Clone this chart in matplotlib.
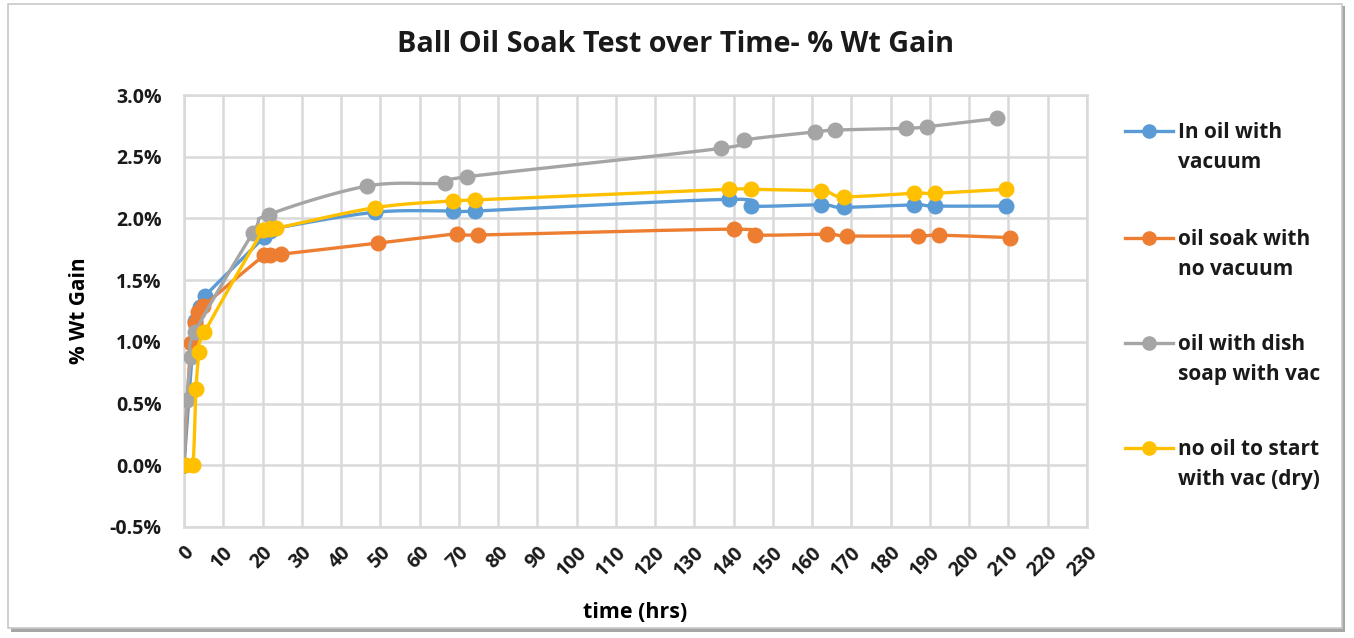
import numpy as np
import matplotlib
matplotlib.use("Agg")
import matplotlib.pyplot as plt
from matplotlib.lines import Line2D
from matplotlib.patches import Rectangle
from matplotlib.ticker import FuncFormatter, MultipleLocator

plt.rcParams["font.family"] = ["Open Sans", "DejaVu Sans"]
plt.rcParams["font.weight"] = "bold"

TITLE = "Ball Oil Soak Test over Time- % Wt Gain"

# time (hrs) and % weight gain for each soak condition
vac_hrs = [0, 2.8, 4.0, 5.3, 20.5, 22.0, 23.3, 48.6, 68.4, 74.2, 138.8, 144.3, 162.3, 168.0, 186.0, 191.3, 209.3]
vac_gain = [0.0, 1.17, 1.28, 1.37, 1.85, 1.90, 1.92, 2.05, 2.06, 2.06, 2.155, 2.10, 2.11, 2.09, 2.11, 2.10, 2.10]

novac_hrs = [0, 1.7, 2.8, 3.6, 4.9, 20.4, 21.9, 24.7, 49.4, 69.6, 75.0, 140.0, 145.5, 163.7, 168.9, 187.0, 192.4, 210.3]
novac_gain = [0.0, 0.99, 1.15, 1.24, 1.29, 1.70, 1.70, 1.71, 1.80, 1.875, 1.866, 1.913, 1.866, 1.872, 1.858, 1.858, 1.864, 1.845]

soap_hrs = [0, 0.7, 1.8, 2.8, 17.6, 21.6, 46.7, 66.4, 72.2, 136.8, 142.6, 160.6, 165.9, 183.9, 189.2, 207.2]
soap_gain = [0.0, 0.53, 0.88, 1.08, 1.885, 2.03, 2.263, 2.285, 2.338, 2.568, 2.635, 2.70, 2.716, 2.73, 2.743, 2.81]

dry_hrs = [0, 2.2, 3.05, 3.9, 5.2, 20.2, 21.9, 23.4, 48.6, 68.4, 74.2, 138.9, 144.3, 162.3, 168.0, 186.0, 191.3, 209.3]
dry_gain = [0.0, 0.0, 0.62, 0.92, 1.076, 1.907, 1.913, 1.92, 2.087, 2.142, 2.15, 2.236, 2.236, 2.222, 2.176, 2.204, 2.204, 2.236]

labels = ["In oil with\nvacuum", "oil soak with\nno vacuum", "oil with dish\nsoap with vac", "no oil to start\nwith vac (dry)"]
colors = ["#5B9BD5", "#ED7D31", "#A5A5A5", "#FFC000"]


def smooth(xs, ys, n=20):
    # bezier smoothing like a spreadsheet "smoothed line"
    p = np.column_stack([xs, ys]).astype(float)
    p = np.vstack([p[0], p, p[-1]])
    t = np.linspace(0, 1, n)[:, None]
    out = []
    for i in range(1, len(p) - 2):
        p0, p1, p2, p3 = p[i - 1], p[i], p[i + 1], p[i + 2]
        c1 = p1 + (p2 - p0) / 6
        c2 = p2 - (p3 - p1) / 6
        seg = (1 - t) ** 3 * p1 + 3 * (1 - t) ** 2 * t * c1 + 3 * (1 - t) * t ** 2 * c2 + t ** 3 * p2
        out.append(seg if i == 1 else seg[1:])
    out = np.vstack(out)
    return out[:, 0], out[:, 1]


fig = plt.figure(figsize=(13.54, 6.38), dpi=100)

# chart frame with a soft shadow
fig.add_artist(Rectangle((11 / 1354, 1 - 632 / 638), 1334 / 1354, 626 / 638,
                         transform=fig.transFigure, facecolor="#a6a6a6", edgecolor="none", zorder=-3))
fig.add_artist(Rectangle((8 / 1354, 1 - 628 / 638), 1334 / 1354, 624 / 638,
                         transform=fig.transFigure, facecolor="white", edgecolor="#c8c8c8", lw=1.2, zorder=-2))

ax = fig.add_axes([184 / 1354, 1 - 527 / 638, 903 / 1354, 432 / 638])

series = [(vac_hrs, vac_gain), (novac_hrs, novac_gain), (soap_hrs, soap_gain), (dry_hrs, dry_gain)]
for k, (hrs, gain) in enumerate(series):
    sx, sy = smooth(hrs, gain)
    ax.plot(sx, sy, color=colors[k], lw=2.4, zorder=3 + k, solid_capstyle="round")
    ax.plot(hrs, gain, "o", color=colors[k], ms=10.5, zorder=3 + k)

ax.set_xlim(0, 230)
ax.set_ylim(-0.5, 3.0)
ax.xaxis.set_major_locator(MultipleLocator(10))
ax.yaxis.set_major_locator(MultipleLocator(0.5))
ax.yaxis.set_major_formatter(FuncFormatter(lambda v, pos: "%.1f%%" % v))
ax.grid(True, color="#d9d9d9", lw=1.8, zorder=0)
ax.set_axisbelow(True)
for s in ax.spines.values():
    s.set_color("#d9d9d9")
    s.set_linewidth(1.8)
ax.tick_params(length=0, labelsize=14, colors="#1a1a1a")
ax.tick_params(axis="y", pad=16)
ax.tick_params(axis="x", pad=11)
for lab in ax.get_xticklabels():
    lab.set_rotation(45)
    lab.set_ha("right")
    lab.set_va("top")
    lab.set_rotation_mode("anchor")
    lab.set_fontweight("bold")
for lab in ax.get_yticklabels():
    lab.set_fontweight("bold")

ax.set_xlabel("time (hrs)", fontsize=15.5, fontweight="bold", labelpad=16)
ax.set_ylabel("% Wt Gain", fontsize=15, fontweight="bold", labelpad=14)
fig.text(0.499, 1 - 45 / 638, TITLE, ha="center", va="center", fontsize=20.7, fontweight="bold", color="#1a1a1a")

# legend on the right, marker aligned with first line of each label
leg_y = [131, 238, 343, 448]
for k in range(4):
    y = 1 - leg_y[k] / 638
    fig.add_artist(Line2D([1125 / 1354, 1173 / 1354], [y, y], transform=fig.transFigure,
                          color=colors[k], lw=2.4))
    fig.add_artist(Line2D([1149 / 1354], [y], transform=fig.transFigure, marker="o",
                          ms=9.5, color=colors[k]))
    fig.text(1178 / 1354, y + 9 / 638, labels[k], ha="left", va="top", fontsize=15,
             fontweight="bold", color="#1a1a1a", linespacing=1.55)

fig.savefig("out.png", dpi=100)
